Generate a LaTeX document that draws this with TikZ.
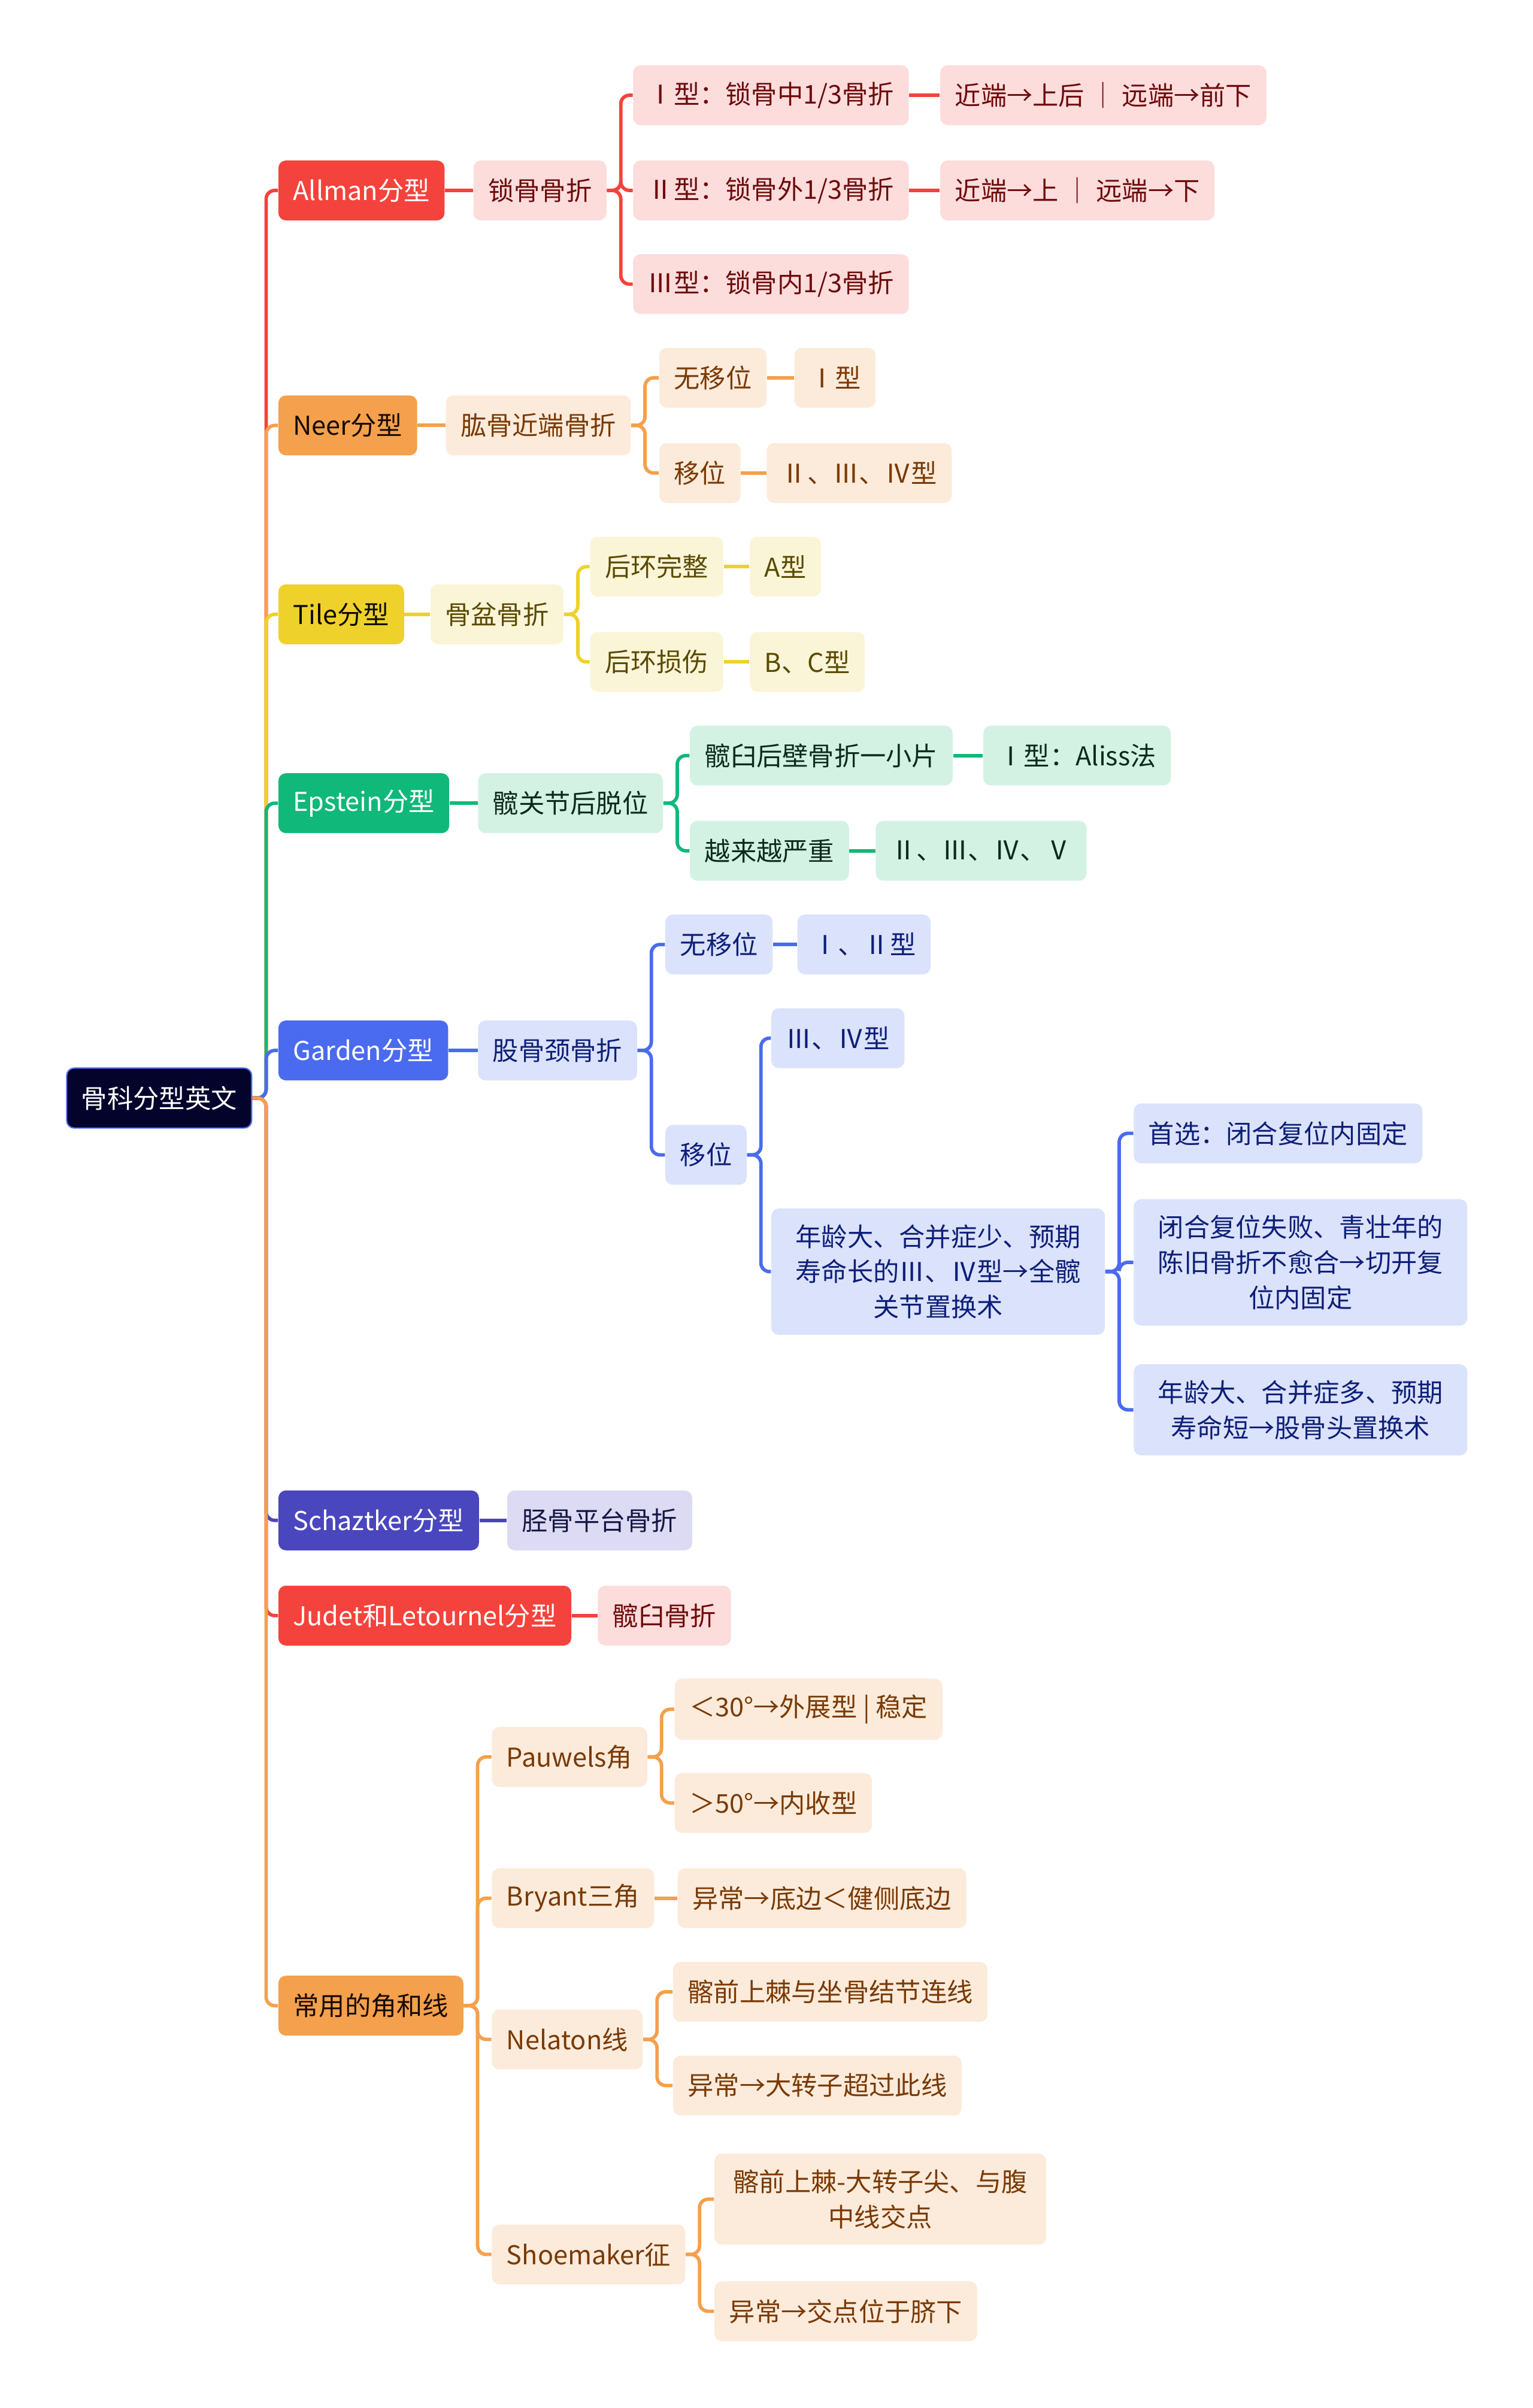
\documentclass[tikz,border=0pt]{standalone}
\usepackage{fontspec}
\setmainfont{Noto Sans CJK SC}

% 配色
\definecolor{redM}{HTML}{F4433C}
\definecolor{redL}{HTML}{FDDCDC}
\definecolor{redT}{HTML}{6E0B0B}
\definecolor{oraM}{HTML}{F4A04C}
\definecolor{oraL}{HTML}{FCEBDB}
\definecolor{oraT}{HTML}{7A3A05}
\definecolor{yelM}{HTML}{EFD12B}
\definecolor{yelL}{HTML}{FBF5D8}
\definecolor{yelT}{HTML}{5A4A00}
\definecolor{grnM}{HTML}{10B87A}
\definecolor{grnL}{HTML}{D3F2E4}
\definecolor{grnT}{HTML}{0E2A1C}
\definecolor{bluM}{HTML}{4A6BEF}
\definecolor{bluL}{HTML}{DBE2FB}
\definecolor{bluT}{HTML}{0E1F78}
\definecolor{indM}{HTML}{4A46BD}
\definecolor{indL}{HTML}{DCDBF3}
\definecolor{indT}{HTML}{161645}
\definecolor{rootC}{HTML}{03032B}

\tikzset{
  box/.style={anchor=west, rounded corners=3.5pt, minimum height=0.975cm,
    inner xsep=0.24cm, inner ysep=0.26cm, align=center,
    font=\fontsize{12}{16.3}\selectfont},
  topbox/.style={box, fill=#1, text=white},
  subbox/.style 2 args={box, fill=#1, text=#2},
  conn/.style={draw=#1, line width=1.6pt, rounded corners=4pt},
}
\newcommand{\elbow}[3]{\draw[conn=#1] (#2.east) -- ++(9,0) |- (#3.west);}

\begin{document}
\begin{tikzpicture}[x=0.025cm, y=-0.025cm]
    \useasboundingbox (0,0) rectangle (998,1568);

    % 中心
    \node[box, fill=rootC, draw=bluM, line width=0.6pt, text=white] (root) at (43,715) {骨科分型英文};

    % 一级
    \node[topbox=redM] (allman) at (181,124) {Allman分型};
    \node[topbox=oraM, text=black!80!oraT] (neer) at (181,277) {Neer分型};
    \node[topbox=yelM, text=black!85!yelT] (tile) at (181,400) {Tile分型};
    \node[topbox=grnM] (eps) at (181,523) {Epstein分型};
    \node[topbox=bluM] (gard) at (181,684) {Garden分型};
    \node[topbox=indM] (scha) at (181,990) {Schaztker分型};
    \node[topbox=redM] (jude) at (181,1052) {Judet和Letournel分型};
    \node[topbox=oraM, text=black!80!oraT] (angl) at (181,1306) {常用的角和线};

    % Allman
    \begin{scope}[every node/.style={subbox={redL}{redT}}]
        \node (clav) at (308,124) {锁骨骨折};
        \node (clavI) at (412,62) {Ⅰ型：锁骨中1/3骨折};
        \node (clavII) at (412,124) {Ⅱ型：锁骨外1/3骨折};
        \node (clavIII) at (412,185) {Ⅲ型：锁骨内1/3骨折};
        \node (clavIa) at (612,62) {近端→上后 ｜ 远端→前下};
        \node (clavIIa) at (612,124) {近端→上 ｜ 远端→下};
        \node (acet) at (389,1052) {髋臼骨折};
    \end{scope}

    % Neer
    \begin{scope}[every node/.style={subbox={oraL}{oraT}}]
        \node (humer) at (290,277) {肱骨近端骨折};
        \node (humN) at (429,246) {无移位};
        \node (humD) at (429,308) {移位};
        \node (humNa) at (517,246) {Ⅰ型};
        \node (humDa) at (499,308) {Ⅱ、Ⅲ、Ⅳ型};
    \end{scope}

    % Tile
    \begin{scope}[every node/.style={subbox={yelL}{yelT}}]
        \node (pelv) at (280,400) {骨盆骨折};
        \node (pelvA) at (384,369) {后环完整};
        \node (pelvB) at (384,431) {后环损伤};
        \node (pelvAa) at (488,369) {A型};
        \node (pelvBa) at (488,431) {B、C型};
    \end{scope}

    % Epstein
    \begin{scope}[every node/.style={subbox={grnL}{grnT}}]
        \node (hipd) at (311,523) {髋关节后脱位};
        \node (hipdA) at (449,492) {髋臼后壁骨折一小片};
        \node (hipdB) at (449,554) {越来越严重};
        \node (hipdAa) at (640,492) {Ⅰ型：Aliss法};
        \node (hipdBa) at (570,554) {Ⅱ、Ⅲ、Ⅳ、Ⅴ};
    \end{scope}

    % Garden
    \begin{scope}[every node/.style={subbox={bluL}{bluT}}]
        \node (neck) at (311,684) {股骨颈骨折};
        \node (neckN) at (433,615) {无移位};
        \node (neckD) at (433,752) {移位};
        \node (neckNa) at (519,615) {Ⅰ、Ⅱ型};
        \node (neckDa) at (502,676) {Ⅲ、Ⅳ型};
        \node[minimum width=5.43cm] (neckDb) at (502,828) {年龄大、合并症少、预期\\寿命长的Ⅲ、Ⅳ型→全髋\\关节置换术};
        \node (treatA) at (738,738) {首选：闭合复位内固定};
        \node[minimum width=5.43cm] (treatB) at (738,822) {闭合复位失败、青壮年的\\陈旧骨折不愈合→切开复\\位内固定};
        \node[minimum width=5.43cm] (treatC) at (738,918) {年龄大、合并症多、预期\\寿命短→股骨头置换术};
    \end{scope}

    % Schaztker
    \node[subbox={indL}{indT}] (tib) at (330,990) {胫骨平台骨折};

    % 常用的角和线
    \begin{scope}[every node/.style={subbox={oraL}{oraT}}]
        \node (pauw) at (320,1144) {Pauwels角};
        \node (brya) at (320,1236) {Bryant三角};
        \node (nela) at (320,1328) {Nelaton线};
        \node (shoe) at (320,1468) {Shoemaker征};
        \node (pauwA) at (439,1113) {＜30°→外展型 | 稳定};
        \node (pauwB) at (439,1174) {＞50°→内收型};
        \node (bryaA) at (441,1236) {异常→底边＜健侧底边};
        \node (nelaA) at (438,1297) {髂前上棘与坐骨结节连线};
        \node (nelaB) at (438,1358) {异常→大转子超过此线};
        \node[minimum width=5.4cm] (shoeA) at (465,1432) {髂前上棘-大转子尖、与腹\\中线交点};
        \node (shoeB) at (465,1505) {异常→交点位于脐下};
    \end{scope}

    % 连线 (主干)
    \foreach \n/\c in {allman/redM, neer/oraM, tile/yelM, eps/grnM, gard/bluM, scha/indM, jude/redM, angl/oraM}
        {\elbow{\c}{root}{\n}}

    % Allman
    \draw[conn=redM] (allman) -- (clav);
    \foreach \n in {clavI, clavII, clavIII} {\elbow{redM}{clav}{\n}}
    \draw[conn=redM] (clavI) -- (clavIa);
    \draw[conn=redM] (clavII) -- (clavIIa);
    \draw[conn=redM] (jude) -- (acet);

    % Neer
    \draw[conn=oraM] (neer) -- (humer);
    \foreach \n in {humN, humD} {\elbow{oraM}{humer}{\n}}
    \draw[conn=oraM] (humN) -- (humNa);
    \draw[conn=oraM] (humD) -- (humDa);

    % Tile
    \draw[conn=yelM] (tile) -- (pelv);
    \foreach \n in {pelvA, pelvB} {\elbow{yelM}{pelv}{\n}}
    \draw[conn=yelM] (pelvA) -- (pelvAa);
    \draw[conn=yelM] (pelvB) -- (pelvBa);

    % Epstein
    \draw[conn=grnM] (eps) -- (hipd);
    \foreach \n in {hipdA, hipdB} {\elbow{grnM}{hipd}{\n}}
    \draw[conn=grnM] (hipdA) -- (hipdAa);
    \draw[conn=grnM] (hipdB) -- (hipdBa);

    % Garden
    \draw[conn=bluM] (gard) -- (neck);
    \foreach \n in {neckN, neckD} {\elbow{bluM}{neck}{\n}}
    \draw[conn=bluM] (neckN) -- (neckNa);
    \foreach \n in {neckDa, neckDb} {\elbow{bluM}{neckD}{\n}}
    \foreach \n in {treatA, treatB, treatC} {\elbow{bluM}{neckDb}{\n}}

    % Schaztker
    \draw[conn=indM] (scha) -- (tib);

    % 常用的角和线
    \foreach \n in {pauw, brya, nela, shoe} {\elbow{oraM}{angl}{\n}}
    \foreach \n in {pauwA, pauwB} {\elbow{oraM}{pauw}{\n}}
    \draw[conn=oraM] (brya) -- (bryaA);
    \foreach \n in {nelaA, nelaB} {\elbow{oraM}{nela}{\n}}
    \foreach \n in {shoeA, shoeB} {\elbow{oraM}{shoe}{\n}}
\end{tikzpicture}
\end{document}
